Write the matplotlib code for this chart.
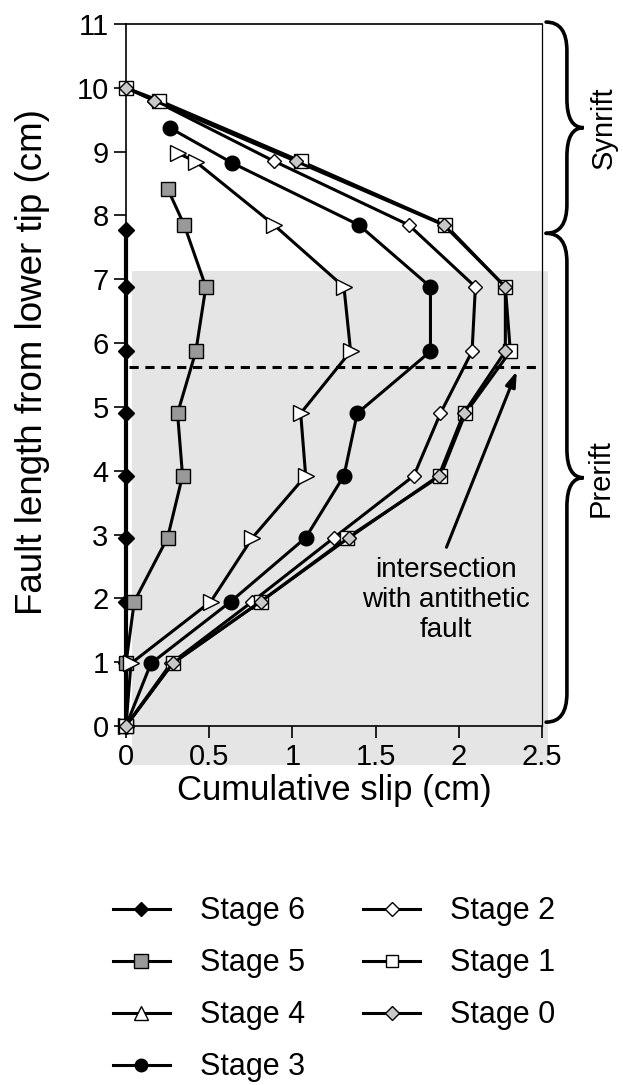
import numpy as np
import matplotlib
matplotlib.use('Agg')
import matplotlib.pyplot as plt
from matplotlib.lines import Line2D
from matplotlib.patches import Rectangle, PathPatch
from matplotlib.path import Path

plt.rcParams['font.family'] = ['Liberation Sans', 'DejaVu Sans']

# Data (slip in cm, position along fault in cm)
y_stage6 = [0, 0.98, 1.95, 2.95, 3.92, 4.9, 5.87, 6.88, 7.77]
x_stage6 = [0, 0, 0, 0, 0, 0, 0, 0, 0]

y_stage5 = [0, 0.98, 1.95, 2.95, 3.92, 4.9, 5.87, 6.88, 7.85, 8.42]
x_stage5 = [0, 0, 0.05, 0.25, 0.34, 0.31, 0.42, 0.48, 0.35, 0.25]

y_stage4 = [0, 0.98, 1.95, 2.95, 3.92, 4.9, 5.87, 6.88, 7.85, 8.84, 8.98]
x_stage4 = [0, 0.03, 0.51, 0.76, 1.08, 1.05, 1.35, 1.31, 0.89, 0.42, 0.31]

y_stage3 = [0, 0.98, 1.95, 2.95, 3.92, 4.9, 5.87, 6.88, 7.85, 8.82, 9.37]
x_stage3 = [0, 0.15, 0.63, 1.08, 1.31, 1.39, 1.83, 1.83, 1.40, 0.64, 0.265]

y_top = [0, 0.98, 1.95, 2.95, 3.92, 4.9, 5.87, 6.88, 7.85, 8.85, 9.8, 10]
x_stage2 = [0, 0.27, 0.76, 1.25, 1.73, 1.89, 2.08, 2.10, 1.70, 0.89, 0.17, 0]
x_stage1 = [0, 0.28, 0.81, 1.33, 1.89, 2.04, 2.31, 2.28, 1.92, 1.05, 0.20, 0]
x_stage0 = [0, 0.28, 0.81, 1.34, 1.88, 2.03, 2.28, 2.28, 1.91, 1.02, 0.17, 0]

x_ticks = [0, 0.5, 1, 1.5, 2, 2.5]
x_ticklabels = ['0', '0.5', '1', '1.5', '2', '2.5']
y_ticks = list(range(0, 12))

prerift_top = 7.13
intersection_y = 5.63

fig = plt.figure(figsize=(6.23, 10.85), dpi=100)
ax = fig.add_axes([0.2022, 0.3309, 0.6677, 0.647])

# grey prerift box (extends a little past the axes)
ax.add_patch(Rectangle((0.035, -0.61), 2.5, prerift_top + 0.61, facecolor='#e5e5e5',
                       edgecolor='none', zorder=0, clip_on=False))

lw = 2.2
mew = 1.0
ax.plot(x_stage6, y_stage6, '-D', color='k', lw=3, ms=8.3, mfc='k', mec='k', clip_on=False, zorder=3)
ax.plot(x_stage5, y_stage5, '-s', color='k', lw=lw, ms=10, mfc='#999999', mec='k', mew=mew, clip_on=False, zorder=3)
ax.plot(x_stage4, y_stage4, '->', color='k', lw=lw, ms=11.5, mfc='white', mec='k', mew=mew, clip_on=False, zorder=3)
ax.plot(x_stage3, y_stage3, '-o', color='k', lw=lw, ms=10.5, mfc='k', mec='k', clip_on=False, zorder=3)
ax.plot(x_stage2, y_top, '-D', color='k', lw=lw, ms=7, mfc='white', mec='k', mew=mew, clip_on=False, zorder=3)
ax.plot(x_stage1, y_top, '-s', color='k', lw=lw, ms=10, mfc='white', mec='k', mew=mew, clip_on=False, zorder=3)
ax.plot(x_stage0, y_top, '-D', color='k', lw=lw, ms=7.6, mfc='#c8c8c8', mec='k', mew=mew, clip_on=False, zorder=3)

# intersection with antithetic fault
ax.plot([0.02, 2.5], [intersection_y, intersection_y], color='k', lw=2.2,
        linestyle=(0, (3, 2.2)), zorder=2)
ax.annotate('', xy=(2.355, 5.6), xytext=(1.92, 2.76),
            arrowprops=dict(arrowstyle='-|>,head_length=0.9,head_width=0.3', color='k', lw=2.2))
ax.text(1.92, 1.97, 'intersection\nwith antithetic\nfault', ha='center', va='center',
        fontsize=20, linespacing=1.2)

ax.set_xlim(0, 2.5)
ax.set_ylim(0, 11)
ax.set_xticks(x_ticks)
ax.set_xticklabels(x_ticklabels)
ax.set_yticks(y_ticks)
ax.tick_params(direction='out', length=8.5, width=1.2, labelsize=21, pad=4)
for s in ax.spines.values():
    s.set_linewidth(1.2)
ax.spines['right'].set_linewidth(0.9)

ax.set_xlabel('Cumulative slip (cm)', fontsize=25, labelpad=2)
ax.set_ylabel('Fault length from lower tip (cm)', fontsize=26.5)
ax.yaxis.set_label_coords(-0.183, 0.518)


def brace(x_end, x_stroke, x_tip, y_bot, y_top, d):
    ym = (y_bot + y_top) / 2
    verts = [(x_end, y_top), (x_stroke, y_top), (x_stroke, y_top - d),
             (x_stroke, ym + d), (x_stroke, ym), (x_tip, ym),
             (x_stroke, ym), (x_stroke, ym - d),
             (x_stroke, y_bot + d), (x_stroke, y_bot), (x_end, y_bot)]
    codes = [Path.MOVETO, Path.CURVE3, Path.CURVE3,
             Path.LINETO, Path.CURVE3, Path.CURVE3,
             Path.CURVE3, Path.CURVE3,
             Path.LINETO, Path.CURVE3, Path.CURVE3]
    return PathPatch(Path(verts, codes), fill=False, lw=2.6, edgecolor='k',
                     clip_on=False, capstyle='round', joinstyle='miter')


ax.add_patch(brace(2.525, 2.65, 2.75, 7.72, 11.03, 0.45))
ax.add_patch(brace(2.525, 2.65, 2.75, 0.06, 7.72, 0.45))
ax.text(2.87, 9.37, 'Synrift', rotation=90, ha='center', va='center', fontsize=21)
ax.text(2.85, 3.89, 'Prerift', rotation=90, ha='center', va='center', fontsize=21)

# legend
handles = [
    Line2D([], [], color='k', lw=lw, marker='D', ms=6.8, mfc='k', mec='k'),
    Line2D([], [], color='k', lw=lw, marker='s', ms=9.5, mfc='#999999', mec='k', mew=mew),
    Line2D([], [], color='k', lw=lw, marker='^', ms=9.5, mfc='white', mec='k', mew=mew),
    Line2D([], [], color='k', lw=lw, marker='o', ms=9, mfc='k', mec='k'),
    Line2D([], [], color='k', lw=lw, marker='D', ms=6.8, mfc='white', mec='k', mew=mew),
    Line2D([], [], color='k', lw=lw, marker='s', ms=9, mfc='white', mec='k', mew=mew),
    Line2D([], [], color='k', lw=lw, marker='D', ms=6.8, mfc='#c8c8c8', mec='k', mew=mew),
]
labels = ['Stage 6', 'Stage 5', 'Stage 4', 'Stage 3', 'Stage 2', 'Stage 1', 'Stage 0']
fig.legend(handles, labels, ncol=2, loc='upper left', bbox_to_anchor=(0.181, 0.174),
           frameon=False, fontsize=22, handlelength=1.87, handletextpad=0.98,
           columnspacing=1.9, labelspacing=0.72, borderpad=0, borderaxespad=0)

fig.savefig('out.png', dpi=100)
